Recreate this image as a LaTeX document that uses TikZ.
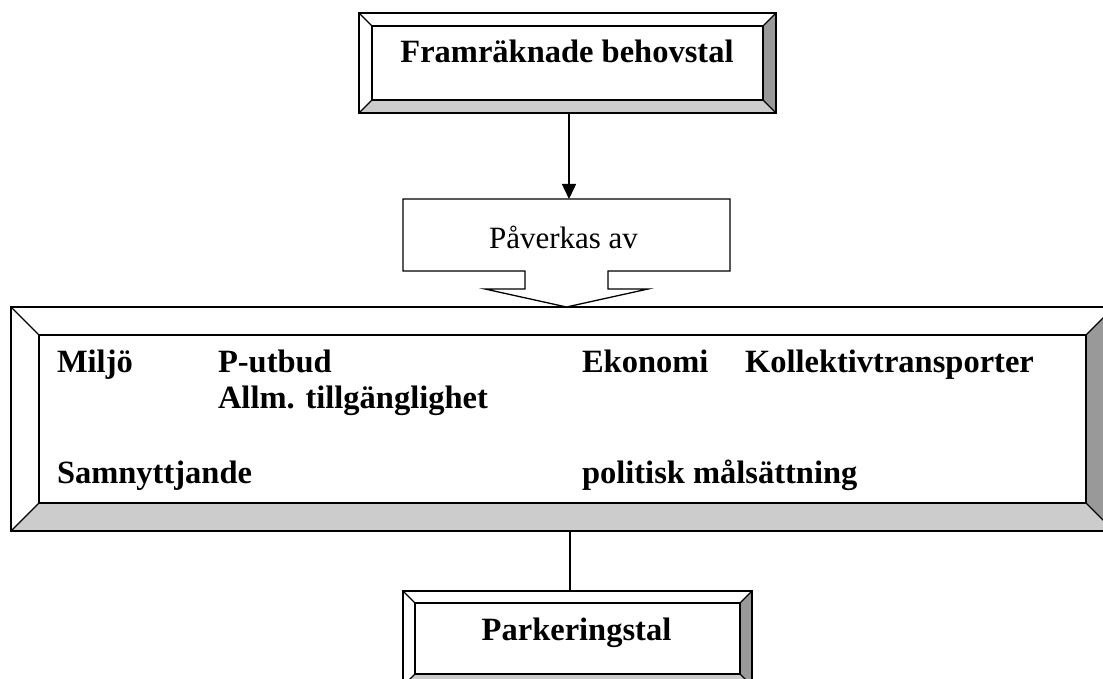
\documentclass[tikz,border=0pt]{standalone}
\usepackage{fontspec}
\setmainfont{Liberation Serif}
\usetikzlibrary{calc,arrows.meta}

\definecolor{bevellight}{HTML}{CCCCCC}
\definecolor{beveldark}{HTML}{999999}

\tikzset{
  frame/.style={draw=none, inner sep=0pt, outer sep=0pt},
  lbl/.style={inner sep=0pt, outer sep=0pt, font=\fontsize{32.5}{36}\selectfont\bfseries},
  plainlbl/.style={inner sep=0pt, outer sep=0pt, font=\fontsize{31}{35}\selectfont},
  edge/.style={line width=1.3pt},
  conn/.style={line width=1.5pt},
}

% Bevelled frame drawn around node #1 with bevel depth #2 (pt)
\newcommand\bevelframe[2]{%
  \coordinate (nw) at (#1.north west);
  \coordinate (ne) at (#1.north east);
  \coordinate (sw) at (#1.south west);
  \coordinate (se) at (#1.south east);
  \coordinate (inw) at ([shift={(#2pt,-#2pt)}]#1.north west);
  \coordinate (ine) at ([shift={(-#2pt,-#2pt)}]#1.north east);
  \coordinate (isw) at ([shift={(#2pt,#2pt)}]#1.south west);
  \coordinate (ise) at ([shift={(-#2pt,#2pt)}]#1.south east);
  \fill[white] (nw) -- (ne) -- (ine) -- (inw) -- cycle;
  \fill[white] (nw) -- (inw) -- (isw) -- (sw) -- cycle;
  \fill[bevellight] (sw) -- (isw) -- (ise) -- (se) -- cycle;
  \fill[beveldark] (ne) -- (se) -- (ise) -- (ine) -- cycle;
  \filldraw[edge, fill=white] (inw) rectangle (ise);
  \draw[edge] (nw) rectangle (se);
  \draw[edge] (nw) -- (inw) (ne) -- (ine) (sw) -- (isw) (se) -- (ise);
}

\begin{document}
\begin{tikzpicture}[x=1pt, y=-1pt]
\useasboundingbox (0,0) rectangle (1103,679);
\clip (0,0) rectangle (1103,679);

% frames
\node[frame, minimum width=417pt, minimum height=100pt] (top) at (567.5,63) {};
\bevelframe{top}{13}
\node[frame, minimum width=1103pt, minimum height=224pt] (big) at (562.5,419) {};
\bevelframe{big}{28}
\node[frame, minimum width=349pt, minimum height=95pt] (bot) at (577.5,638.5) {};
\bevelframe{bot}{12}

% callout box with downward arrow
\node[frame, minimum width=327pt, minimum height=72pt] (pav) at (566.5,235) {};
\draw[edge, fill=white]
  (pav.north west) -- (pav.north east) -- (pav.south east)
  -- ($(pav.south)+(41.5pt,0)$) -- ($(pav.south)+(41.5pt,-18pt)$)
  -- ($(pav.south)+(81.5pt,-18pt)$) -- ($(pav.south)+(0,-36pt)$)
  -- ($(pav.south)+(-81.5pt,-18pt)$) -- ($(pav.south)+(-41.5pt,-18pt)$)
  -- ($(pav.south)+(-41.5pt,0)$) -- (pav.south west) -- cycle;

% texts
\node[lbl, anchor=base] (t1) at (567,63) {Framräknade behovstal};
\node[plainlbl, anchor=base] (t2) at (563.5,248) {Påverkas av};
\node[lbl, anchor=base] (t3) at (576.5,640) {Parkeringstal};

\node[lbl, anchor=base west] (f1) at (57,372) {Miljö};
\node[lbl, anchor=base west] (f2) at (218,372) {P-utbud};
\node[lbl, anchor=base west] (f3) at (582,372) {Ekonomi};
\node[lbl, anchor=base west] (f4) at (745,372) {Kollektivtransporter};
\node[lbl, anchor=base west] (f5) at (218,408) {Allm. tillgänglighet};
\node[lbl, anchor=base west] (f6) at (57,483) {Samnyttjande};
\node[lbl, anchor=base west] (f7) at (582,483) {politisk målsättning};

% connectors
\draw[conn, -{Triangle[length=15pt,width=14pt]}] (top.south -| 569,0) -- (pav.north -| 569,0);
\draw[conn] (big.south -| 570,0) -- (bot.north -| 570,0);
\end{tikzpicture}
\end{document}
